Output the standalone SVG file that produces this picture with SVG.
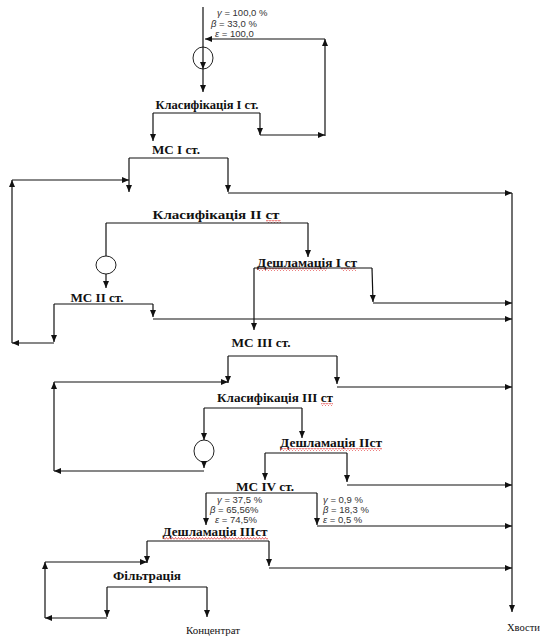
<svg xmlns="http://www.w3.org/2000/svg" width="540" height="637" viewBox="0 0 540 637">
<style>
.c{fill:none;stroke:#111;stroke-width:1.2}
.a{marker-end:url(#ah)}
.lb{font-family:"Liberation Serif",serif;font-weight:bold;font-size:13px;fill:#111;text-anchor:middle}
.sm{font-family:"Liberation Serif",serif;font-size:10px;fill:#111}
.st{font-family:"Liberation Sans",sans-serif;font-size:9.5px;fill:#333}
.g{font-style:italic}
.n{fill:none;stroke:#222;stroke-width:1}
</style>
<defs>
<marker id="ah" markerUnits="userSpaceOnUse" markerWidth="8" markerHeight="7" refX="7" refY="3" orient="auto">
<path d="M0,0 L7,3 L0,6 z" fill="#111"/>
</marker>
<pattern id="wave" patternUnits="userSpaceOnUse" width="3" height="3">
<path d="M0,2.5 L1.5,0.5 L3,2.5" fill="none" stroke="#e02020" stroke-width="0.7"/>
</pattern>
</defs>
<rect width="540" height="637" fill="#fff"/>

<g id="feed">
<ellipse class="n" cx="203" cy="58" rx="10" ry="11"/>
<text class="st" x="217" y="16"><tspan class="g">γ</tspan> = 100,0 %</text>
<text class="st" x="211" y="27"><tspan class="g">β</tspan> = 33,0 %</text>
<text class="st" x="215" y="37"><tspan class="g">ε</tspan> = 100,0</text>
</g>
<g id="class1"><text class="lb" x="207" y="109" textLength="103" lengthAdjust="spacingAndGlyphs">Класифікація І ст.</text></g>
<g id="mc1"><text class="lb" x="176" y="154" textLength="48" lengthAdjust="spacingAndGlyphs">МС І ст.</text></g>
<g id="class2"><text class="lb" x="216" y="219" textLength="127" lengthAdjust="spacingAndGlyphs">Класифікація ІІ ст</text><rect x="266" y="220" width="15" height="3" fill="url(#wave)"/></g>
<g id="pump2"><ellipse class="n" cx="106" cy="265" rx="10" ry="9"/></g>
<g id="deshl1"><text class="lb" x="307" y="267" textLength="100" lengthAdjust="spacingAndGlyphs">Дешламація І ст</text><rect x="257" y="268" width="70" height="3" fill="url(#wave)"/><rect x="341" y="268" width="15" height="3" fill="url(#wave)"/></g>
<g id="mc2"><text class="lb" x="97" y="302" textLength="53" lengthAdjust="spacingAndGlyphs">МС ІІ ст.</text></g>
<g id="mc3"><text class="lb" x="261" y="347" textLength="59" lengthAdjust="spacingAndGlyphs">МС ІІІ ст.</text></g>
<g id="class3"><text class="lb" x="275" y="402" textLength="116" lengthAdjust="spacingAndGlyphs">Класифікація ІІІ ст</text><rect x="321" y="403" width="12" height="3" fill="url(#wave)"/></g>
<g id="pump3"><ellipse class="n" cx="204" cy="451" rx="10" ry="11"/></g>
<g id="deshl2"><text class="lb" x="331" y="447" textLength="102" lengthAdjust="spacingAndGlyphs">Дешламація ІІст</text><rect x="280" y="448" width="102" height="3" fill="url(#wave)"/></g>
<g id="mc4"><text class="lb" x="265" y="491" textLength="58" lengthAdjust="spacingAndGlyphs">МС ІV ст.</text>
<text class="st" x="217" y="503"><tspan class="g">γ</tspan> = 37,5 %</text>
<text class="st" x="210" y="513"><tspan class="g">β</tspan> = 65,56%</text>
<text class="st" x="215" y="523"><tspan class="g">ε</tspan> = 74,5%</text>
<text class="st" x="323" y="503"><tspan class="g">γ</tspan> = 0,9 %</text>
<text class="st" x="323" y="513"><tspan class="g">β</tspan> = 18,3 %</text>
<text class="st" x="323" y="523"><tspan class="g">ε</tspan> = 0,5 %</text>
</g>
<g id="deshl3"><text class="lb" x="215" y="536" textLength="105" lengthAdjust="spacingAndGlyphs">Дешламація ІІІст</text><rect x="163" y="537" width="105" height="3" fill="url(#wave)"/></g>
<g id="filtr"><text class="lb" x="147" y="580" textLength="68" lengthAdjust="spacingAndGlyphs">Фільтрація</text></g>
<g id="conc"><text class="sm" x="213" y="634" text-anchor="middle" textLength="54" lengthAdjust="spacingAndGlyphs">Концентрат</text></g>
<g id="tails"><text class="sm" x="507" y="631" textLength="33" lengthAdjust="spacingAndGlyphs">Хвости</text></g>

<g id="connectors">
<path class="c a" d="M203,7 V69"/>
<path class="c a" d="M203,69 V92"/>
<path class="c" d="M153,113 H260"/>
<path class="c a" d="M153,113 V141"/>
<path class="c a" d="M260,113 V135"/>
<path class="c a" d="M260,135 H325"/>
<path class="c a" d="M325,136 V39"/>
<path class="c a" d="M325,39 H205"/>

<path class="c" d="M129,158 H228"/>
<path class="c a" d="M129,158 V192"/>
<path class="c a" d="M228,158 V192"/>
<path class="c a" d="M228,193 H512"/>

<path class="c" d="M106,223 H308"/>
<path class="c" d="M106,223 V256"/>
<path class="c a" d="M308,223 V257"/>
<path class="c a" d="M106,274 V288"/>

<path class="c" d="M254,268 H372"/>
<path class="c a" d="M254,268 V330"/>
<path class="c a" d="M372,268 L373,302"/>
<path class="c a" d="M373,303 H512"/>

<path class="c" d="M54,304 H153"/>
<path class="c a" d="M54,304 V342"/>
<path class="c a" d="M153,304 V317"/>
<path class="c a" d="M153,319 H512"/>
<path class="c a" d="M54,343 H12"/>
<path class="c a" d="M12,343 V180"/>
<path class="c a" d="M12,180 H129"/>

<path class="c" d="M228,356 H337"/>
<path class="c a" d="M228,356 V383"/>
<path class="c a" d="M337,356 V384"/>
<path class="c a" d="M337,387 H512"/>

<path class="c" d="M204,408 H302"/>
<path class="c a" d="M204,408 V440"/>
<path class="c a" d="M302,408 V438"/>
<path class="c a" d="M204,462 V468"/>
<path class="c a" d="M204,471 H54"/>
<path class="c a" d="M54,471 V382"/>
<path class="c a" d="M54,382 H228"/>

<path class="c" d="M265,453 H347"/>
<path class="c a" d="M265,453 V480"/>
<path class="c a" d="M347,453 V482"/>
<path class="c a" d="M347,485 H512"/>

<path class="c" d="M206,493 H317"/>
<path class="c a" d="M206,493 V525"/>
<path class="c a" d="M317,493 V525"/>
<path class="c a" d="M317,526 H512"/>

<path class="c" d="M147,541 H269"/>
<path class="c a" d="M147,541 V563"/>
<path class="c a" d="M269,541 V566"/>
<path class="c a" d="M269,568 H512"/>

<path class="c" d="M107,587 H207"/>
<path class="c a" d="M107,587 V617"/>
<path class="c a" d="M207,587 V617"/>
<path class="c a" d="M107,618 H45"/>
<path class="c a" d="M45,618 V562"/>
<path class="c a" d="M45,562 H147"/>

<path class="c a" d="M512,193 V612"/>
</g>
</svg>
